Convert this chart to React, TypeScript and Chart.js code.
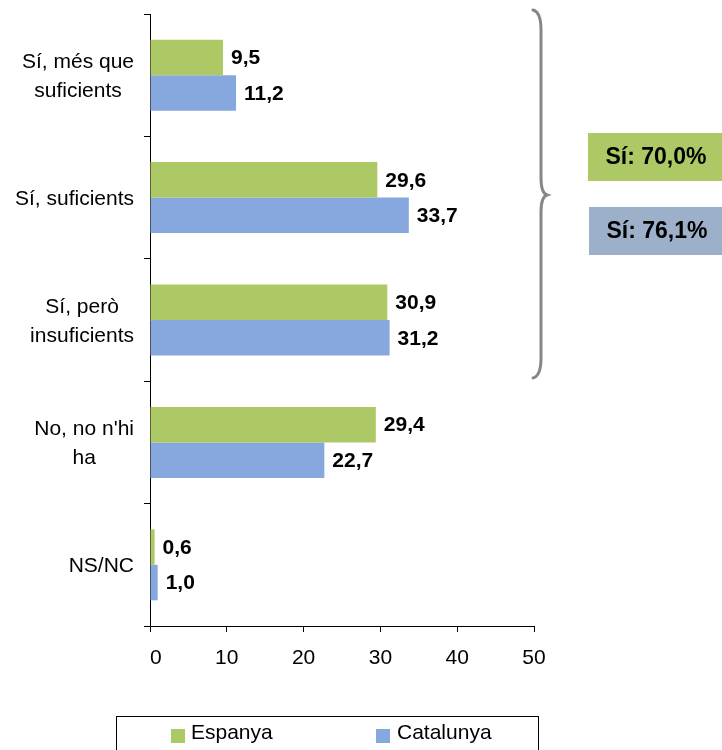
import React, { useEffect, useRef } from "react";
import { Chart, registerables } from "chart.js";

Chart.register(...registerables);

const categories: string[][] = [
  ["Sí, més que", "suficients"],
  ["Sí, suficients"],
  ["Sí, però", "insuficients"],
  ["No, no n'hi", "ha"],
  ["NS/NC"],
];
const seriesNames = ["Espanya", "Catalunya"];
const espanya = [9.5, 29.6, 30.9, 29.4, 0.6];
const catalunya = [11.2, 33.7, 31.2, 22.7, 1.0];
const xTickValues = [0, 10, 20, 30, 40, 50];
const siCategoryIndices = [0, 1, 2];

const FONT = "'Liberation Sans', Arial, Helvetica, sans-serif";
const GREEN = "#adc965";
const BLUE = "#87a8de";
const GREY_BOX = "#9cb0ca";
const BRACE = "#878787";

const fmt = (v: number) => v.toFixed(1).replace(".", ",");
const sumOf = (arr: number[]) => siCategoryIndices.reduce((s, i) => s + arr[i], 0);

const overlayPlugin = {
  id: "overlay",
  afterDraw(chart: any) {
    const ctx: CanvasRenderingContext2D = chart.ctx;
    ctx.save();

    // value labels
    ctx.font = `bold 21px ${FONT}`;
    ctx.fillStyle = "#000";
    ctx.textAlign = "left";
    ctx.textBaseline = "middle";
    chart.data.datasets.forEach((ds: any, di: number) => {
      const meta = chart.getDatasetMeta(di);
      meta.data.forEach((el: any, i: number) => {
        ctx.fillText(fmt(ds.data[i]), el.x + 8, el.y + 1);
      });
    });

    // category labels: block right-aligned, lines centred in block
    const ys = chart.scales.y;
    ctx.font = `21px ${FONT}`;
    ctx.textAlign = "center";
    ctx.textBaseline = "alphabetic";
    categories.forEach((lines, i) => {
      const cy = ys.getPixelForValue(i);
      const w = Math.max(...lines.map((l) => ctx.measureText(l).width));
      const right = ys.right - 16;
      const cx = right - w / 2;
      const lh = 29;
      lines.forEach((l, k) => {
        const ly = cy + (k - (lines.length - 1) / 2) * lh + 7.5;
        ctx.fillText(l, cx, ly);
      });
    });

    // brace
    ctx.strokeStyle = BRACE;
    ctx.lineWidth = 3;
    ctx.lineCap = "round";
    ctx.beginPath();
    ctx.moveTo(533, 10);
    ctx.quadraticCurveTo(541, 12, 541, 30);
    ctx.lineTo(541, 178);
    ctx.quadraticCurveTo(541, 193, 547, 195);
    ctx.quadraticCurveTo(541, 197, 541, 212);
    ctx.lineTo(541, 358);
    ctx.quadraticCurveTo(541, 376, 533, 378);
    ctx.stroke();

    // summary boxes
    ctx.fillStyle = GREEN;
    ctx.fillRect(588, 133, 140, 48);
    ctx.fillStyle = GREY_BOX;
    ctx.fillRect(589, 207, 140, 48);
    ctx.fillStyle = "#000";
    ctx.font = `bold 23px ${FONT}`;
    ctx.textAlign = "center";
    ctx.textBaseline = "middle";
    ctx.fillText(`Sí: ${fmt(sumOf(espanya))}%`, 656, 158);
    ctx.fillText(`Sí: ${fmt(sumOf(catalunya))}%`, 657, 232);

    // legend box
    ctx.strokeStyle = "#000";
    ctx.lineWidth = 1;
    ctx.strokeRect(116.5, 716.5, 422, 60);
    const items = [
      { x: 171, tx: 191 },
      { x: 376, tx: 397 },
    ];
    ctx.font = `21px ${FONT}`;
    ctx.textAlign = "left";
    ctx.textBaseline = "alphabetic";
    chart.data.datasets.forEach((ds: any, di: number) => {
      const it = items[di];
      ctx.fillStyle = ds.backgroundColor;
      ctx.fillRect(it.x, 729, 14, 14);
      ctx.fillStyle = "#000";
      ctx.fillText(ds.label, it.tx, 739);
    });

    ctx.restore();
  },
};

export default function App() {
  const ref = useRef<HTMLCanvasElement | null>(null);
  useEffect(() => {
    if (!ref.current) return;
    const chart = new Chart(ref.current, {
      type: "bar",
      data: {
        labels: categories as any,
        datasets: [
          {
            label: seriesNames[0],
            data: espanya,
            backgroundColor: GREEN,
            borderWidth: 0,
            categoryPercentage: 0.58,
            barPercentage: 1.0,
          },
          {
            label: seriesNames[1],
            data: catalunya,
            backgroundColor: BLUE,
            borderWidth: 0,
            categoryPercentage: 0.58,
            barPercentage: 1.0,
          },
        ],
      },
      options: {
        indexAxis: "y",
        animation: false,
        responsive: false,
        maintainAspectRatio: false,
        layout: { padding: { left: 0, right: 188, top: 14, bottom: 0 } },
        plugins: {
          legend: { display: false },
          tooltip: { enabled: false },
        },
        scales: {
          x: {
            min: 0,
            max: 50,
            afterBuildTicks: (scale: any) => {
              scale.ticks = xTickValues.map((v) => ({ value: v }));
            },
            afterFit: (scale: any) => {
              scale.height = 124;
            },
            ticks: {
              color: "#000",
              font: { family: FONT, size: 21 },
              padding: 14,
              maxRotation: 0,
              callback: (v: any) => (Number(v) === 0 ? "  0" : String(v)),
            },
            grid: {
              drawOnChartArea: false,
              drawTicks: true,
              tickLength: 6,
              color: "#000",
            },
            border: { display: true, color: "#000", width: 1 },
          },
          y: {
            afterFit: (scale: any) => {
              scale.width = 150;
            },
            ticks: { display: false },
            grid: {
              drawOnChartArea: false,
              drawTicks: true,
              tickLength: 6,
              color: "#000",
              offset: true,
            },
            border: { display: true, color: "#000", width: 1 },
          },
        },
      },
      plugins: [overlayPlugin],
    });
    return () => chart.destroy();
  }, []);
  return (
    <div style={{ position: "absolute", left: 0, top: 0, width: 722, height: 750 }}>
      <canvas ref={ref} width={722} height={750} style={{ display: "block" }} />
    </div>
  );
}
